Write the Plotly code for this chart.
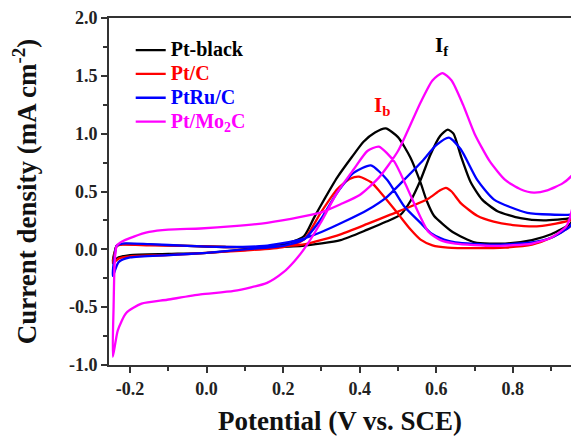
import plotly.graph_objects as go

# Pt-black (forward then backward scan)
black_x = [-0.245, -0.24, -0.235, -0.22, -0.15, -0.05, 0.05, 0.15, 0.25, 0.35, 0.42, 0.47, 0.507, 0.533, 0.559, 0.585, 0.61, 0.63, 0.645, 0.665, 0.69, 0.72, 0.76, 0.82, 0.88, 0.95, 0.962,
           0.95, 0.9, 0.85, 0.78, 0.7, 0.645, 0.62, 0.594, 0.575, 0.559, 0.533, 0.5, 0.468, 0.44, 0.41, 0.38, 0.341, 0.307, 0.28, 0.254, 0.2, 0.1, 0.0, -0.1, -0.2, -0.23, -0.245]
black_y = [-0.10, -0.02, 0.03, 0.045, 0.04, 0.03, 0.02, 0.02, 0.03, 0.08, 0.17, 0.24, 0.30, 0.42, 0.60, 0.82, 0.98, 1.035, 1.0, 0.80, 0.58, 0.43, 0.33, 0.27, 0.25, 0.27, 0.29,
           0.22, 0.13, 0.08, 0.05, 0.06, 0.145, 0.21, 0.29, 0.42, 0.576, 0.79, 0.97, 1.045, 1.01, 0.93, 0.80, 0.62, 0.43, 0.27, 0.113, 0.04, 0.0, -0.03, -0.04, -0.05, -0.07, -0.10]

# Pt/C
red_x = [-0.245, -0.24, -0.235, -0.22, -0.15, -0.05, 0.05, 0.15, 0.25, 0.35, 0.42, 0.48, 0.533, 0.58, 0.61, 0.625, 0.64, 0.664, 0.707, 0.75, 0.8, 0.87, 0.95, 0.962,
         0.95, 0.9, 0.85, 0.78, 0.7, 0.63, 0.59, 0.559, 0.533, 0.498, 0.455, 0.43, 0.398, 0.375, 0.341, 0.298, 0.254, 0.2, 0.1, 0.0, -0.1, -0.2, -0.23, -0.245]
red_y = [-0.12, -0.03, 0.03, 0.04, 0.035, 0.03, 0.02, 0.02, 0.04, 0.13, 0.22, 0.30, 0.37, 0.44, 0.51, 0.532, 0.50, 0.40, 0.29, 0.24, 0.21, 0.20, 0.25, 0.27,
         0.20, 0.10, 0.04, 0.015, 0.01, 0.015, 0.035, 0.084, 0.171, 0.316, 0.489, 0.58, 0.628, 0.61, 0.52, 0.316, 0.084, 0.02, -0.01, -0.03, -0.05, -0.06, -0.08, -0.12]

# PtRu/C
blue_x = [-0.245, -0.24, -0.235, -0.22, -0.15, -0.05, 0.05, 0.15, 0.245, 0.3, 0.36, 0.42, 0.47, 0.507, 0.56, 0.6, 0.633, 0.664, 0.707, 0.751, 0.838, 0.95, 0.962,
          0.95, 0.9, 0.85, 0.75, 0.65, 0.62, 0.585, 0.559, 0.516, 0.472, 0.429, 0.385, 0.341, 0.298, 0.254, 0.2, 0.1, 0.0, -0.1, -0.2, -0.23, -0.245]
blue_y = [-0.23, -0.05, 0.03, 0.05, 0.045, 0.03, 0.02, 0.03, 0.084, 0.15, 0.24, 0.34, 0.45, 0.57, 0.75, 0.90, 0.966, 0.865, 0.60, 0.43, 0.316, 0.30, 0.31,
          0.20, 0.10, 0.06, 0.04, 0.06, 0.084, 0.142, 0.229, 0.373, 0.60, 0.726, 0.663, 0.489, 0.258, 0.084, 0.03, 0.0, -0.03, -0.05, -0.07, -0.11, -0.23]

# Pt/Mo2C
mag_x = [-0.245, -0.243, -0.24, -0.235, -0.225, -0.19, -0.15, -0.1, -0.016, 0.071, 0.158, 0.246, 0.3, 0.35, 0.4, 0.45, 0.5, 0.559, 0.59, 0.616, 0.64, 0.67, 0.7, 0.74, 0.78, 0.82, 0.855, 0.89, 0.93, 0.955, 0.966,
         0.955, 0.94, 0.9, 0.85, 0.75, 0.65, 0.611, 0.58, 0.55, 0.52, 0.49, 0.45, 0.42, 0.384, 0.341, 0.298, 0.254, 0.23, 0.2, 0.158, 0.071, -0.016, -0.103, -0.17, -0.21, -0.232, -0.245]
mag_y = [-0.93, -0.5, -0.1, 0.03, 0.06, 0.11, 0.15, 0.17, 0.18, 0.20, 0.229, 0.28, 0.32, 0.39, 0.47, 0.62, 0.85, 1.27, 1.46, 1.524, 1.46, 1.25, 1.0, 0.76, 0.60, 0.52, 0.49, 0.51, 0.57, 0.64, 0.69,
         0.35, 0.20, 0.10, 0.05, 0.03, 0.05, 0.08, 0.15, 0.34, 0.56, 0.76, 0.888, 0.85, 0.69, 0.49, 0.23, 0.0, -0.1, -0.2, -0.29, -0.36, -0.39, -0.436, -0.47, -0.55, -0.70, -0.93]

series = [
    ("Pt-black", "#000000", black_x, black_y),
    ("Pt/C", "#ff0000", red_x, red_y),
    ("PtRu/C", "#0000ff", blue_x, blue_y),
    ("Pt/Mo<sub>2</sub>C", "#ff00ff", mag_x, mag_y),
]

xticks = [-0.2, 0.0, 0.2, 0.4, 0.6, 0.8]
yticks = [-1.0, -0.5, 0.0, 0.5, 1.0, 1.5, 2.0]

FONT = "Liberation Serif"

fig = go.Figure()
for name, color, xs, ys in series:
    fig.add_trace(go.Scatter(
        x=xs, y=ys, mode="lines",
        line=dict(color=color, width=2.3, shape="spline", smoothing=0.6),
        name=f"<span style='color:{color};font-size:20px'>{name}</span>",
    ))

fig.add_annotation(x=0.616, y=1.76, text="I<sub>f</sub>", showarrow=False,
                   font=dict(family=FONT, size=21, color="#000000", weight="bold"))
fig.add_annotation(x=0.458, y=1.24, text="I<sub>b</sub>", showarrow=False,
                   font=dict(family=FONT, size=21, color="#ff0000", weight="bold"))

axis_common = dict(
    showgrid=False, zeroline=False, showline=True, linecolor="#333333", linewidth=2,
    ticks="outside", ticklen=6, tickwidth=1.5, tickcolor="#333333",
    tickfont=dict(family=FONT, size=18, color="#222222", weight="bold"),
)

fig.update_xaxes(
    range=[-0.255, 0.952], tickvals=xticks, ticktext=[f"{v:.1f}" for v in xticks],
    mirror=True,
    minor=dict(dtick=0.1, tick0=0, ticks="outside", ticklen=4, tickcolor="#333333"),
    title=dict(text="Potential (V vs. SCE)", font=dict(family=FONT, size=27, color="#111111", weight="bold"), standoff=14),
    **axis_common,
)
fig.update_yaxes(
    range=[-1.0, 2.0], tickvals=yticks, ticktext=[f"{v:.1f}" for v in yticks],
    minor=dict(dtick=0.25, tick0=0, ticks="outside", ticklen=4, tickcolor="#333333"),
    title=dict(text="Current density (mA cm<sup>-2</sup>)", font=dict(family=FONT, size=27, color="#111111", weight="bold"), standoff=24),
    **axis_common,
)

fig.update_layout(
    width=571, height=444,
    margin=dict(l=109, r=0, t=18, b=79, autoexpand=False),
    paper_bgcolor="white", plot_bgcolor="white",
    showlegend=True,
    legend=dict(x=0.047, y=0.956, xanchor="left", yanchor="top", bgcolor="rgba(0,0,0,0)",
                font=dict(family=FONT, size=16, weight="bold"), tracegroupgap=0),
)

fig.write_html("out.html", config={"displayModeBar": False},
               post_script="document.body.style.margin='0';document.body.style.overflow='hidden';")
